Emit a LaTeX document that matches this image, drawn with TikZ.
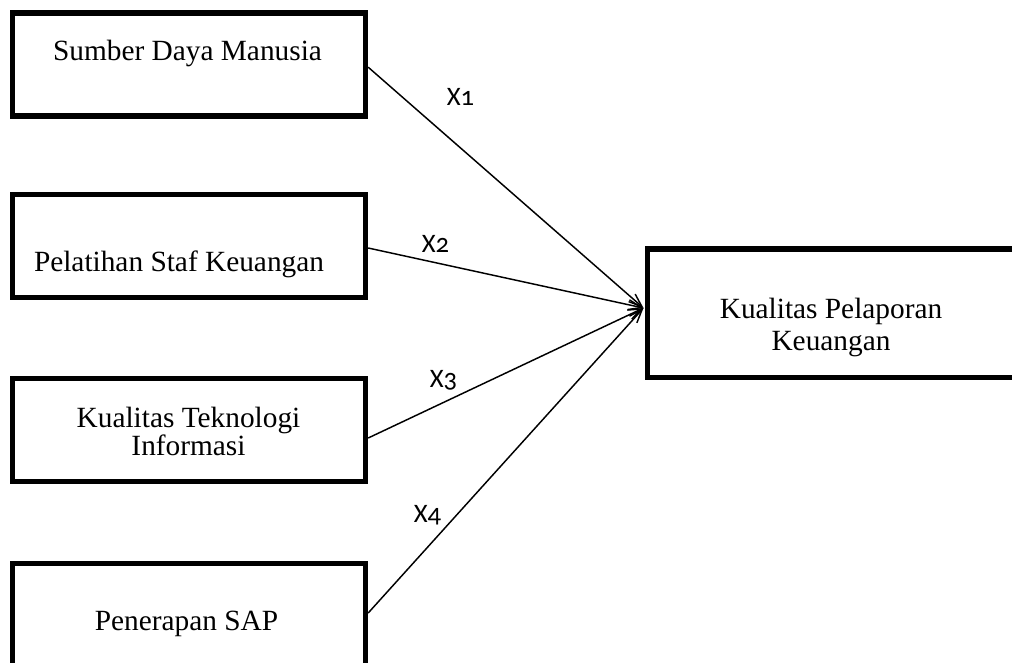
\documentclass[tikz,border=0pt]{standalone}
\usepackage{fontspec}
\setmainfont{Liberation Serif}
\newfontfamily\lblfont[Numbers=OldStyle]{Carlito}
\usetikzlibrary{arrows.meta}
\begin{document}
\begin{tikzpicture}[x=0.75pt,y=-0.75pt,
  varbox/.style={draw=black,line width=4pt,rectangle,inner sep=0pt,minimum width=264.75pt,minimum height=77.25pt},
  boxtext/.style={anchor=base,inner sep=0pt,font=\fontsize{22}{26}\selectfont},
  xlabel/.style={anchor=base,inner sep=0pt,font=\lblfont\fontsize{20}{22}\selectfont},
  link/.style={line width=1.1pt,-{Straight Barb[length=10pt,width=7.5pt,line width=1.1pt]}}]
\clip (0,0) rectangle (1012,662);
\fill[white] (0,0) rectangle (1012,662);
% boxes
\node[varbox] (box1) at (189,64.5) {};
\node[varbox] (box2) at (189,246) {};
\node[varbox] (box3) at (189,430) {};
\node[varbox] (box4) at (189,615) {};
\node[varbox,minimum width=275.6pt,minimum height=96.4pt] (box5) at (831.25,313.25) {};
% texts
\node[boxtext] (t1) at (187.5,60) {Sumber Daya Manusia};
\node[boxtext] (t2) at (179,271.5) {Pelatihan Staf Keuangan};
\node[boxtext] (t3a) at (188.5,427) {Kualitas Teknologi};
\node[boxtext] (t3b) at (188.5,455) {Informasi};
\node[boxtext] (t4) at (186.5,630) {Penerapan SAP};
\node[boxtext] (t5a) at (831,318) {Kualitas Pelaporan};
\node[boxtext] (t5b) at (831,350) {Keuangan};
% arrows
\coordinate (tip) at (643.5,308);
\draw[link] ([yshift=-2pt]box1.east) -- (tip);
\draw[link] ([yshift=-1.5pt]box2.east) -- (tip);
\draw[link] ([yshift=-6pt]box3.east) -- (tip);
\draw[link] ([yshift=1.5pt]box4.east) -- (tip);
% labels
\node[xlabel] (x1) at (460.5,105) {X1};
\node[xlabel] (x2) at (435.5,252) {X2};
\node[xlabel] (x3) at (443.5,387) {X3};
\node[xlabel] (x4) at (427.5,522) {X4};
\end{tikzpicture}
\end{document}
